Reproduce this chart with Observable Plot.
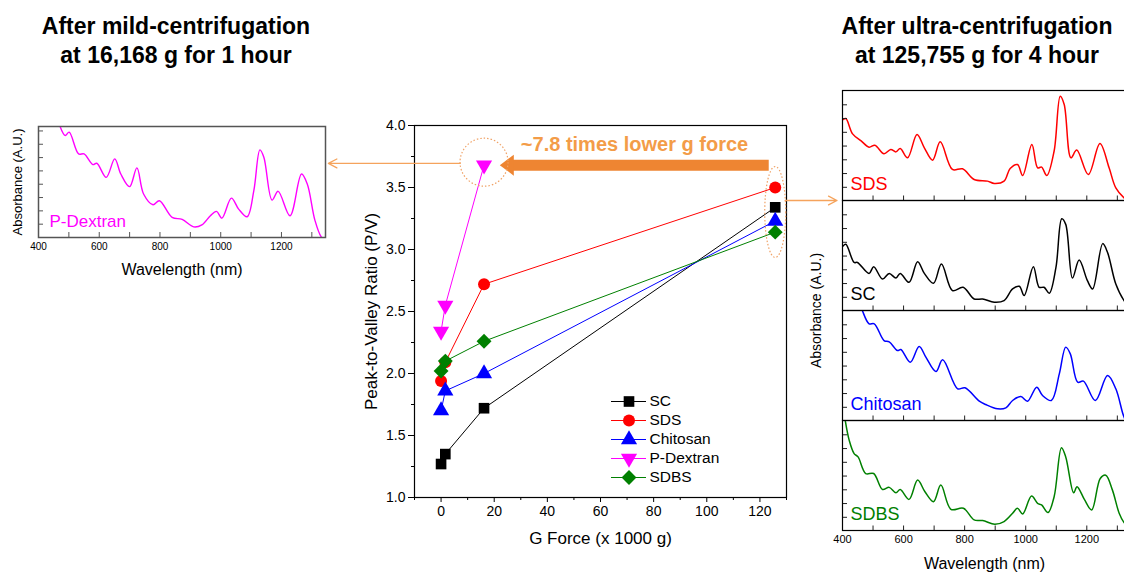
<!DOCTYPE html>
<html><head><meta charset="utf-8">
<script src="https://cdn.jsdelivr.net/npm/d3@7"></script>
<script src="https://cdn.jsdelivr.net/npm/@observablehq/plot@0.6"></script>
<style>
html,body{margin:0;padding:0;background:#fff;overflow:hidden;}
#page{position:relative;width:1124px;height:572px;overflow:hidden;font-family:"Liberation Sans",Arial,sans-serif;}
.abs{position:absolute;}
.title{position:absolute;text-align:center;font-weight:bold;font-size:23px;line-height:29px;color:#000;}
</style></head><body>
<div id="page">
  <div id="main" class="abs" style="left:0;top:0;width:1124px;height:572px"></div>
  <div id="left" class="abs" style="left:0;top:100px;width:345px;height:180px"></div>
  <div id="right" class="abs" style="left:800px;top:80px;width:340px;height:492px"></div>
  <div id="legend" class="abs" style="left:600px;top:388px;width:130px;height:100px"></div>
  <div class="title" style="left:0px;top:12px;width:352px">After mild-centrifugation<br>at 16,168 g for 1 hour</div>
  <div class="title" style="left:820px;top:12px;width:314px">After ultra-centrifugation<br>at 125,755 g for 4 hour</div>
</div>
<script>
// ---------------- main chart data ----------------
const seriesNames = ["SC", "SDS", "Chitosan", "P-Dextran", "SDBS"];
const seriesColors = ["#000000", "#FF0000", "#0000FF", "#FF00FF", "#008000"];
const gForce = [0, 1.6, 16.168, 125.755];           // x 1000 g
const ratioSC = [1.27, 1.35, 1.72, 3.34];
const ratioSDS = [1.94, 2.09, 2.72, 3.50];
const ratioChitosan = [1.70, 1.86, 2.00, 3.23];
const ratioPDextran = [2.34, 2.55, 3.68, null];
const ratioSDBS = [2.02, 2.10, 2.26, 3.14];
const xTicks = [0, 20, 40, 60, 80, 100, 120];
const xMinorTicks = [-10, 10, 30, 50, 70, 90, 110, 130];
const yTicks = [1.0, 1.5, 2.0, 2.5, 3.0, 3.5, 4.0];
const yMinorTicks = [1.25, 1.75, 2.25, 2.75, 3.25, 3.75];
const xLabel = "G Force (x 1000 g)";
const yLabel = "Peak-to-Valley Ratio (P/V)";
// annotations (data units)
const arrowNote = {text: "~7.8 times lower g force", x1: 123.5, x2: 26.6, tip: 22.1, y: 3.68};
const highlight = {series: "P-Dextran", g: 16.168};
const connectors = [
  {x1: 7.2, y1: 3.694, x2: -42.4, y2: 3.694},
  {x1: 129.5, y1: 3.395, x2: 149.0, y2: 3.395}
];

// ---------------- spectra data (normalized absorbance per panel) ----------------
const wlPDextran = [471,488,501,532,550,579,592,623,651,671,700,724,746,777,798,840,873,911,938,966,986,1004,1035,1059,1087,1109,1129,1142,1169,1189,1228,1266,1285,1310,1331,1345];
const absPDextran = [1.0,0.919,0.949,0.753,0.753,0.657,0.669,0.542,0.708,0.572,0.458,0.627,0.392,0.295,0.331,0.181,0.163,0.096,0.114,0.196,0.235,0.175,0.355,0.256,0.187,0.422,0.789,0.723,0.337,0.416,0.196,0.572,0.482,0.157,0.006,-0.02];

const wlSDS = [402,411,433,460,487,506,536,558,575,589,613,644,668,695,720,760,793,831,875,897,929,949,973,990,1020,1039,1052,1069,1093,1113,1126,1148,1167,1205,1243,1273,1295,1322,1335];
const absSDS = [0.736,0.745,0.606,0.545,0.485,0.503,0.424,0.464,0.442,0.473,0.388,0.600,0.479,0.367,0.533,0.282,0.288,0.191,0.176,0.155,0.176,0.291,0.327,0.227,0.509,0.297,0.303,0.227,0.45,0.948,0.873,0.388,0.458,0.236,0.518,0.297,0.115,0.024,0.0];

const wlSC = [402,411,438,449,487,502,531,553,575,589,618,646,668,698,724,760,795,831,859,897,929,957,979,995,1025,1044,1060,1077,1099,1118,1131,1153,1175,1202,1219,1252,1268,1295,1322,1335];
const absSC = [0.587,0.602,0.437,0.437,0.337,0.398,0.286,0.337,0.295,0.337,0.256,0.443,0.337,0.247,0.422,0.181,0.211,0.105,0.105,0.075,0.09,0.196,0.22,0.136,0.398,0.211,0.211,0.157,0.392,0.834,0.783,0.295,0.458,0.271,0.196,0.608,0.527,0.241,0.09,0.05];

const wlChitosan = [455,465,487,504,536,553,580,591,622,651,673,706,728,777,801,848,869,908,935,957,984,1006,1036,1055,1084,1110,1131,1146,1170,1189,1228,1268,1295,1320,1335];
const absChitosan = [1.08,1.0,0.879,0.879,0.727,0.715,0.636,0.645,0.530,0.673,0.576,0.445,0.552,0.288,0.297,0.176,0.145,0.106,0.115,0.182,0.218,0.176,0.303,0.227,0.182,0.424,0.667,0.606,0.348,0.358,0.182,0.409,0.288,0.045,-0.05];

const wlSDBS = [404,409,422,438,451,476,502,531,553,575,589,618,646,670,698,722,755,796,831,859,899,929,957,973,990,1019,1039,1052,1073,1093,1117,1131,1157,1168,1192,1216,1244,1262,1284,1306,1322,1335];
const absSDBS = [1.1,1.0,0.819,0.699,0.669,0.518,0.518,0.373,0.392,0.343,0.373,0.283,0.458,0.352,0.262,0.413,0.193,0.202,0.096,0.090,0.057,0.081,0.157,0.202,0.151,0.313,0.247,0.232,0.163,0.307,0.753,0.669,0.343,0.398,0.283,0.187,0.473,0.503,0.367,0.157,0.072,0.04];

const spectraPanels = ["SDS", "SC", "Chitosan", "SDBS"];
const wlLabelTicks = [400, 600, 800, 1000, 1200];
const wlInnerTicks = [500, 600, 700, 800, 900, 1000, 1100, 1200, 1300];
const absInnerTicks = [0.12, 0.245, 0.37, 0.495, 0.62, 0.745, 0.87];
const absInnerTicksInset = [0.12, 0.24, 0.36, 0.48, 0.60, 0.72, 0.84, 0.96];

// ---------------- build tidy tables ----------------
const ratios = {"SC": ratioSC, "SDS": ratioSDS, "Chitosan": ratioChitosan, "P-Dextran": ratioPDextran, "SDBS": ratioSDBS};
const points = [];
for (const s of seriesNames) ratios[s].forEach((r, i) => { if (r != null) points.push({series: s, g: gForce[i], r}); });
const hlPoint = points.filter(d => d.series === highlight.series && d.g === highlight.g);
const ultra = points.filter(d => d.g === gForce[3]);
const ellipseCenter = [{g: gForce[3], r: d3.mean(ultra, d => d.r)}];

const toRows = (panel, wl, ab) => wl.map((w, i) => ({panel, wl: w, a: ab[i]}));
const spectraRight = [
  ...toRows("SDS", wlSDS, absSDS), ...toRows("SC", wlSC, absSC),
  ...toRows("Chitosan", wlChitosan, absChitosan), ...toRows("SDBS", wlSDBS, absSDBS)
];
const spectraLeft = toRows("P-Dextran", wlPDextran, absPDextran);

// ---------------- symbols ----------------
const triangleDown = {draw(ctx, size) {
  const y = -Math.sqrt(size / (Math.sqrt(3) * 3));
  ctx.moveTo(0, -y * 2); ctx.lineTo(-Math.sqrt(3) * y, y); ctx.lineTo(Math.sqrt(3) * y, y); ctx.closePath();
}};
const diamondBig = {draw(ctx, size) {
  const r = Math.sqrt(size) * 0.7;
  ctx.moveTo(0, -r); ctx.lineTo(r, 0); ctx.lineTo(0, r); ctx.lineTo(-r, 0); ctx.closePath();
}};
const seriesSymbols = ["square", "circle", "triangle", triangleDown, diamondBig];
const leftHead = {draw(ctx) { ctx.moveTo(0, 0); ctx.lineTo(14, -10.5); ctx.lineTo(14, 10.5); ctx.closePath(); }};
const ellipseSym = {draw(ctx) {
  const rx = 10.5, ry = 45.5, k = 0.5523;
  ctx.moveTo(rx, 0);
  ctx.bezierCurveTo(rx, ry * k, rx * k, ry, 0, ry);
  ctx.bezierCurveTo(-rx * k, ry, -rx, ry * k, -rx, 0);
  ctx.bezierCurveTo(-rx, -ry * k, -rx * k, -ry, 0, -ry);
  ctx.bezierCurveTo(rx * k, -ry, rx, -ry * k, rx, 0);
  ctx.closePath();
}};

const FONT = "'Liberation Sans', Arial, sans-serif";
const ARROW = "#EE8532", NOTE = "#F39C48", LINE_OR = "#F5A35C", DOT_OR = "#F0A266";
const fmtInt = d3.format("d");

// ---------------- main chart ----------------
const main = Plot.plot({
  width: 1124, height: 572,
  marginLeft: 414, marginRight: 338, marginTop: 125, marginBottom: 75,
  style: {fontFamily: FONT, background: "none", overflow: "visible"},
  x: {domain: [-10, 130]},
  y: {domain: [1, 4]},
  color: {domain: seriesNames, range: seriesColors},
  symbol: {domain: seriesNames, range: seriesSymbols},
  marks: [
    Plot.axisY({ticks: yTicks, tickSize: 6, tickPadding: 3, tickFormat: d3.format(".1f"), fontSize: 14, label: null}),
    Plot.axisY({ticks: yMinorTicks, tickSize: 3, tickFormat: () => "", label: null}),
    Plot.axisX({ticks: xTicks, tickSize: 5, tickPadding: 4, tickFormat: fmtInt, fontSize: 14, label: null}),
    Plot.axisX({ticks: xMinorTicks, tickSize: 3, tickFormat: () => "", label: null}),
    Plot.frame({stroke: "black", strokeWidth: 1.2}),
    Plot.text([xLabel], {text: d => d, frameAnchor: "bottom", dy: 46, fontSize: 17}),
    Plot.text([yLabel], {text: d => d, frameAnchor: "left", dx: -43, rotate: -90, textAnchor: "middle", fontSize: 17}),
    Plot.line(points, {x: "g", y: "r", z: "series", stroke: "series", strokeWidth: 1}),
    Plot.dot(points, {x: "g", y: "r", symbol: "series", fill: "series", r: 6}),
    // annotations
    Plot.ruleY([arrowNote], {y: "y", x1: "x1", x2: "x2", stroke: ARROW, strokeWidth: 11}),
    Plot.dot([arrowNote], {x: "tip", y: "y", symbol: leftHead, fill: ARROW, r: 1}),
    Plot.text([arrowNote], {x: d => (d.x1 + d.tip) / 2, y: "y", text: "text", dy: -21, fill: NOTE, fontSize: 20, fontWeight: "bold"}),
    Plot.dot(hlPoint, {x: "g", y: "r", r: 24, dy: -3, stroke: DOT_OR, strokeWidth: 1.2, strokeDasharray: "1.5,2", fill: "none"}),
    Plot.dot(ellipseCenter, {x: "g", y: "r", symbol: ellipseSym, r: 1, stroke: DOT_OR, strokeWidth: 1.2, strokeDasharray: "1.5,2", fill: "none"}),
    Plot.arrow(connectors, {x1: "x1", y1: "y1", x2: "x2", y2: "y2", stroke: LINE_OR, strokeWidth: 1.3, headLength: 11, headAngle: 55})
  ]
});
document.getElementById("main").append(main);

// ---------------- legend ----------------
const legend = Plot.plot({
  width: 130, height: 100, margin: 0,
  style: {fontFamily: FONT, background: "none", overflow: "visible"},
  x: {domain: [0, 1], range: [11, 46], axis: null},
  y: {type: "point", domain: seriesNames, range: [12, 89], padding: 0, axis: null},
  color: {domain: seriesNames, range: seriesColors},
  symbol: {domain: seriesNames, range: seriesSymbols},
  marks: [
    Plot.ruleY(seriesNames, {y: d => d, x1: 0, x2: 1, stroke: d => d, strokeWidth: 1}),
    Plot.dot(seriesNames, {x: 0.5, y: d => d, symbol: d => d, fill: d => d, r: 6}),
    Plot.text(seriesNames, {x: 1, y: d => d, text: d => d, dx: 3, textAnchor: "start", fontSize: 15.5, fill: "black"})
  ]
});
document.getElementById("legend").append(legend);

// ---------------- left inset (P-Dextran) ----------------
const left = Plot.plot({
  width: 345, height: 180, marginLeft: 38, marginRight: 20, marginTop: 26, marginBottom: 43,
  style: {fontFamily: FONT, background: "none", overflow: "visible"},
  x: {domain: [400, 1345]},
  y: {domain: [0, 1]},
  marks: [
    Plot.line(spectraLeft, {x: "wl", y: "a", stroke: "#FF00FF", strokeWidth: 1.4, curve: "catmull-rom", clip: true}),
    Plot.ruleX(wlInnerTicks, {x: d => d, insetTop: 106, stroke: "#555"}),
    Plot.ruleY(absInnerTicksInset, {y: d => d, insetRight: 282, stroke: "#555"}),
    Plot.frame({stroke: "#555", strokeWidth: 1.5}),
    Plot.text(["P-Dextran"], {text: d => d, frameAnchor: "bottom-left", dx: 11, dy: -11, lineAnchor: "bottom", textAnchor: "start", fill: "#FF00FF", fontSize: 17}),
    Plot.axisX({ticks: wlLabelTicks, tickSize: 0, tickPadding: 5, tickFormat: fmtInt, fontSize: 10, label: null}),
    Plot.axisX({ticks: [], tickSize: 0, label: "Wavelength (nm)", labelAnchor: "center", labelArrow: "none", labelOffset: 37, fontSize: 16}),
    Plot.axisY({ticks: [], tickSize: 0, label: "Absorbance (A.U.)", labelAnchor: "center", labelArrow: "none", labelOffset: 26, fontSize: 13})
  ]
});
document.getElementById("left").append(left);

// ---------------- right panels ----------------
const right = Plot.plot({
  width: 340, height: 492, marginLeft: 42, marginRight: 14, marginTop: 9, marginBottom: 41,
  style: {fontFamily: FONT, background: "none", overflow: "visible"},
  x: {domain: [400, 1330]},
  y: {domain: [0, 1], axis: null},
  fy: {domain: spectraPanels, padding: 0},
  color: {domain: seriesNames, range: seriesColors},
  marks: [
    Plot.line(spectraRight, {x: "wl", y: "a", fy: "panel", stroke: "panel", strokeWidth: 1.5, curve: "catmull-rom", clip: true}),
    Plot.ruleX(wlInnerTicks, {x: d => d, insetTop: 105.5, stroke: "#222"}),
    Plot.ruleY(absInnerTicks, {y: d => d, insetRight: 279, stroke: "#222"}),
    Plot.frame({stroke: "black", strokeWidth: 1.2}),
    Plot.text(spectraPanels, {fy: d => d, text: d => d, frameAnchor: "bottom-left", dx: 8, dy: -11, lineAnchor: "bottom", textAnchor: "start", fill: d => d, fontSize: 18}),
    Plot.axisX({ticks: wlLabelTicks, tickSize: 0, tickPadding: 5, tickFormat: fmtInt, fontSize: 11, label: null}),
    Plot.axisX({ticks: [], tickSize: 0, label: "Wavelength (nm)", labelAnchor: "center", labelArrow: "none", labelOffset: 38, fontSize: 16}),
    Plot.axisFy({anchor: "left", tickSize: 0, tickFormat: () => "", label: "Absorbance (A.U.)", labelAnchor: "center", labelOffset: 31, fontSize: 14})
  ]
});
document.getElementById("right").append(right);
</script>
</body></html>
